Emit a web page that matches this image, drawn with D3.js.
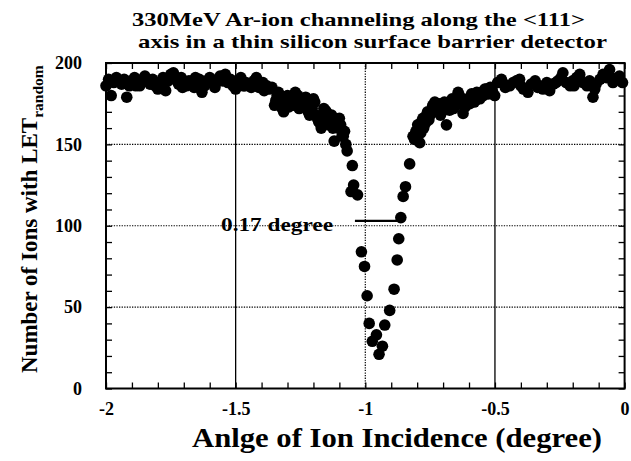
<!DOCTYPE html>
<html>
<head>
<meta charset="utf-8">
<script src="https://cdn.jsdelivr.net/npm/d3@7/dist/d3.min.js"></script>
<style>
  html, body { margin: 0; padding: 0; background: #fff; }
  svg { display: block; }
  text { font-family: "Liberation Serif", "Times New Roman", serif; font-weight: bold; fill: #000; }
</style>
</head>
<body>
<svg id="chart" width="631" height="461"></svg>
<script>
// Incidence angle (degree) of each measurement
const angle = [
  -2.00, -1.99, -1.98, -1.97, -1.96, -1.95, -1.94, -1.93, -1.92, -1.91,
  -1.90, -1.89, -1.88, -1.87, -1.86, -1.85, -1.84, -1.83, -1.82, -1.81,
  -1.80, -1.79, -1.78, -1.77, -1.76, -1.75, -1.74, -1.73, -1.72, -1.71,
  -1.70, -1.69, -1.68, -1.67, -1.66, -1.65, -1.64, -1.63, -1.62, -1.61,
  -1.60, -1.59, -1.58, -1.57, -1.56, -1.55, -1.54, -1.53, -1.52, -1.51,
  -1.50, -1.49, -1.48, -1.47, -1.46, -1.45, -1.44, -1.43, -1.42, -1.41,
  -1.40, -1.39, -1.38, -1.37, -1.36, -1.35, -1.34, -1.33, -1.32, -1.31,
  -1.30, -1.29, -1.28, -1.27, -1.26, -1.25, -1.24, -1.23, -1.22, -1.21,
  -1.20, -1.19, -1.18, -1.17, -1.16, -1.15, -1.14, -1.13, -1.12, -1.11,
  -1.10, -1.09, -1.08, -1.07, -1.05, -1.055, -1.045, -1.03, -1.015, -1.003,
  -0.993, -0.985, -0.973, -0.957, -0.947, -0.934, -0.925, -0.906, -0.889, -0.877,
  -0.871, -0.863, -0.854, -0.845, -0.829, -0.816, -0.805, -0.790, -0.783, -0.775,
  -0.764, -0.755, -0.745, -0.732, -0.720, -0.710, -0.700, -0.687, -0.681, -0.670,
  -0.660, -0.650, -0.642, -0.633, -0.623, -0.610, -0.597, -0.585, -0.575, -0.565,
  -0.550, -0.539, -0.525, -0.510, -0.501, -0.490, -0.475, -0.460, -0.443, -0.430,
  -0.417, -0.400, -0.390, -0.373, -0.360, -0.345, -0.328, -0.315, -0.300, -0.289,
  -0.275, -0.257, -0.245, -0.238, -0.225, -0.210, -0.200, -0.185, -0.173, -0.160,
  -0.145, -0.135, -0.122, -0.110, -0.095, -0.083, -0.070, -0.058, -0.045, -0.032,
  -0.020, -0.008,
  // second pass over the shoulders
  -1.345, -1.335, -1.325, -1.315, -1.305, -1.295, -1.285, -1.275, -1.265, -1.255,
  -1.245, -1.235, -1.225, -1.215, -1.205, -1.195, -1.185, -1.175, -1.165, -1.155,
  -1.145, -1.135, -1.125, -1.115, -1.105, -1.095, -1.085, -1.075,
  -0.810, -0.798, -0.786, -0.778, -0.768, -0.760, -0.750, -0.740, -0.726, -0.715,
  -0.705, -0.695, -0.675, -0.665, -0.655, -0.645, -0.637, -0.628, -0.615, -0.605,
  -0.590, -0.580, -0.570, -0.558, -0.545, -0.532, -0.518,
  -1.885, -1.845, -1.795, -1.705, -1.655, -1.575, -1.465, -1.395,
  -0.465, -0.405, -0.335, -0.265, -0.195, -0.115, -0.051
];

// Number of ions with LET_random at each angle
const count = [
  186, 190, 180, 188, 191, 189, 187, 190, 179, 186,
  189, 191, 188, 186, 190, 192, 189, 187, 190, 186,
  184, 188, 191, 183, 189, 193, 194, 190, 187, 191,
  188, 186, 189, 187, 185, 188, 190, 182, 186, 189,
  191, 188, 185, 190, 192, 189, 193, 188, 190, 186,
  184, 188, 191, 186, 188, 187, 185, 189, 191, 185,
  187, 183, 186, 184, 185, 174, 180, 176, 172, 178,
  180, 176, 176, 182, 180, 175, 178, 179, 170, 174,
  178, 168, 164, 160, 172, 170, 162, 168, 152, 164,
  166, 155, 158, 146, 137, 121, 125, 119, 84, 75,
  57, 40, 29, 33, 21, 26, 39, 48, 61, 79,
  92, 105, 118, 124, 138, 155, 158, 151, 164, 160,
  168, 165, 171, 176, 170, 168, 173, 162, 174, 176,
  172, 178, 182, 175, 169, 176, 175, 180, 177, 180,
  182, 184, 181, 183, 180, 188, 190, 185, 186, 188,
  189, 186, 184, 182, 187, 189, 186, 184, 188, 183,
  187, 189, 191, 194, 188, 186, 189, 191, 193, 188,
  186, 189, 179, 187, 190, 193, 191, 196, 188, 190,
  192, 188,
  177, 182, 174, 170, 179, 173, 178, 174, 178, 172,
  176, 173, 175, 168, 172, 176, 166, 163, 167, 171,
  165, 167, 160, 163, 160, 162, 155, 150,
  153, 162, 157, 166, 163, 170, 168, 174, 172, 175,
  170, 176, 171, 178, 174, 177, 180, 178, 173, 178,
  181, 176, 182, 178, 180, 184, 185,
  186, 190, 187, 185, 191, 188, 186, 188,
  187, 190, 185, 188, 186, 184, 191
];

const xTickValues = [-2, -1.5, -1, -0.5, 0];
const xTickLabels = ["-2", "-1.5", "-1", "-0.5", "0"];
const yTickValues = [0, 50, 100, 150, 200];
const yTickLabels = ["0", "50", "100", "150", "200"];

// Width of the channeling dip at half of the random level
const fwhm = 0.17;
const fwhmRight = -0.87;
const fwhmLevel = 103;
const fwhmLabel = "0.17 degree";

const svg = d3.select("#chart");
const plotL = 106, plotR = 624.6, plotT = 63, plotB = 388.5;

const x = d3.scaleLinear().domain([-2, 0]).range([plotL, plotR]);
const y = d3.scaleLinear().domain([0, 200]).range([plotB, plotT]);

// grid: solid verticals, dotted at -1 and on horizontals
const grid = svg.append("g");
grid.selectAll("line.v")
  .data([-1.5, -1, -0.5])
  .join("line")
  .attr("x1", d => x(d)).attr("x2", d => x(d))
  .attr("y1", plotT).attr("y2", plotB)
  .attr("stroke", "#000")
  .attr("stroke-width", d => d === -1 ? 1.2 : 1.3)
  .attr("stroke-dasharray", d => d === -1 ? "1.3,1.3" : null);
grid.selectAll("line.h")
  .data([50, 100, 150])
  .join("line")
  .attr("x1", plotL).attr("x2", plotR)
  .attr("y1", d => y(d)).attr("y2", d => y(d))
  .attr("stroke", "#000")
  .attr("stroke-width", 1.2)
  .attr("stroke-dasharray", "1.3,1.3");

// minor ticks pointing inward on all four sides
const xMinor = d3.range(-2, 0.001, 0.1).map(v => +v.toFixed(2));
const yMinor = d3.range(0, 201, 10);
const tickLen = 6;

function strip(g) {
  g.select(".domain").remove();
  g.selectAll(".tick line").attr("stroke", "#000").attr("stroke-width", 1.3);
}
svg.append("g").attr("transform", `translate(0,${plotB})`)
  .call(d3.axisBottom(x).tickValues(xMinor).tickSize(-tickLen).tickFormat(""))
  .call(strip);
svg.append("g").attr("transform", `translate(0,${plotT})`)
  .call(d3.axisTop(x).tickValues(xMinor).tickSize(-tickLen).tickFormat(""))
  .call(strip);
svg.append("g").attr("transform", `translate(${plotL},0)`)
  .call(d3.axisLeft(y).tickValues(yMinor).tickSize(-tickLen).tickFormat(""))
  .call(strip);
svg.append("g").attr("transform", `translate(${plotR},0)`)
  .call(d3.axisRight(y).tickValues(yMinor).tickSize(-tickLen).tickFormat(""))
  .call(strip);

// tick labels
const xLab = svg.append("g").attr("transform", `translate(0,${plotB})`)
  .call(d3.axisBottom(x).tickValues(xTickValues).tickSize(0).tickPadding(14)
    .tickFormat((d, i) => xTickLabels[i]));
xLab.select(".domain").remove();
xLab.selectAll("text").attr("font-size", 18).attr("font-family", null);

const yLab = svg.append("g").attr("transform", `translate(${plotL},0)`)
  .call(d3.axisLeft(y).tickValues(yTickValues).tickSize(0).tickPadding(24)
    .tickFormat((d, i) => yTickLabels[i]));
yLab.select(".domain").remove();
yLab.selectAll("text").attr("font-size", 18).attr("font-family", null);

// frame
svg.append("rect")
  .attr("x", plotL).attr("y", plotT)
  .attr("width", plotR - plotL).attr("height", plotB - plotT)
  .attr("fill", "none").attr("stroke", "#000").attr("stroke-width", 2);

// data points
svg.append("g").selectAll("circle")
  .data(d3.zip(angle, count))
  .join("circle")
  .attr("cx", d => x(d[0]))
  .attr("cy", d => y(d[1]))
  .attr("r", 5.8)
  .attr("fill", "#000");

// FWHM marker and label
svg.append("line")
  .attr("x1", x(fwhmRight - fwhm)).attr("x2", x(fwhmRight))
  .attr("y1", y(fwhmLevel)).attr("y2", y(fwhmLevel))
  .attr("stroke", "#000").attr("stroke-width", 2.2);
svg.append("text")
  .attr("x", 221).attr("y", 231)
  .attr("font-size", 19)
  .attr("textLength", 112).attr("lengthAdjust", "spacingAndGlyphs")
  .text(fwhmLabel);

// titles: the face is wider than Liberation Serif, so stretch to width
function wide(xp, yp, fs, width, str) {
  return svg.append("text").attr("x", xp).attr("y", yp)
    .attr("font-size", fs)
    .attr("textLength", width).attr("lengthAdjust", "spacingAndGlyphs")
    .text(str);
}
wide(132, 26, 19.5, 453, "330MeV Ar-ion channeling along the <111>");
wide(138, 48, 19.5, 469, "axis in a thin silicon surface barrier detector");
wide(192, 447, 27, 410, "Anlge of Ion Incidence (degree)");

const yt = svg.append("text")
  .attr("transform", "translate(37,373) rotate(-90)")
  .attr("font-size", 23);
yt.append("tspan").text("Number of Ions with LET");
yt.append("tspan").attr("font-size", 15.5).attr("dy", 6).text("random");
</script>
</body>
</html>
